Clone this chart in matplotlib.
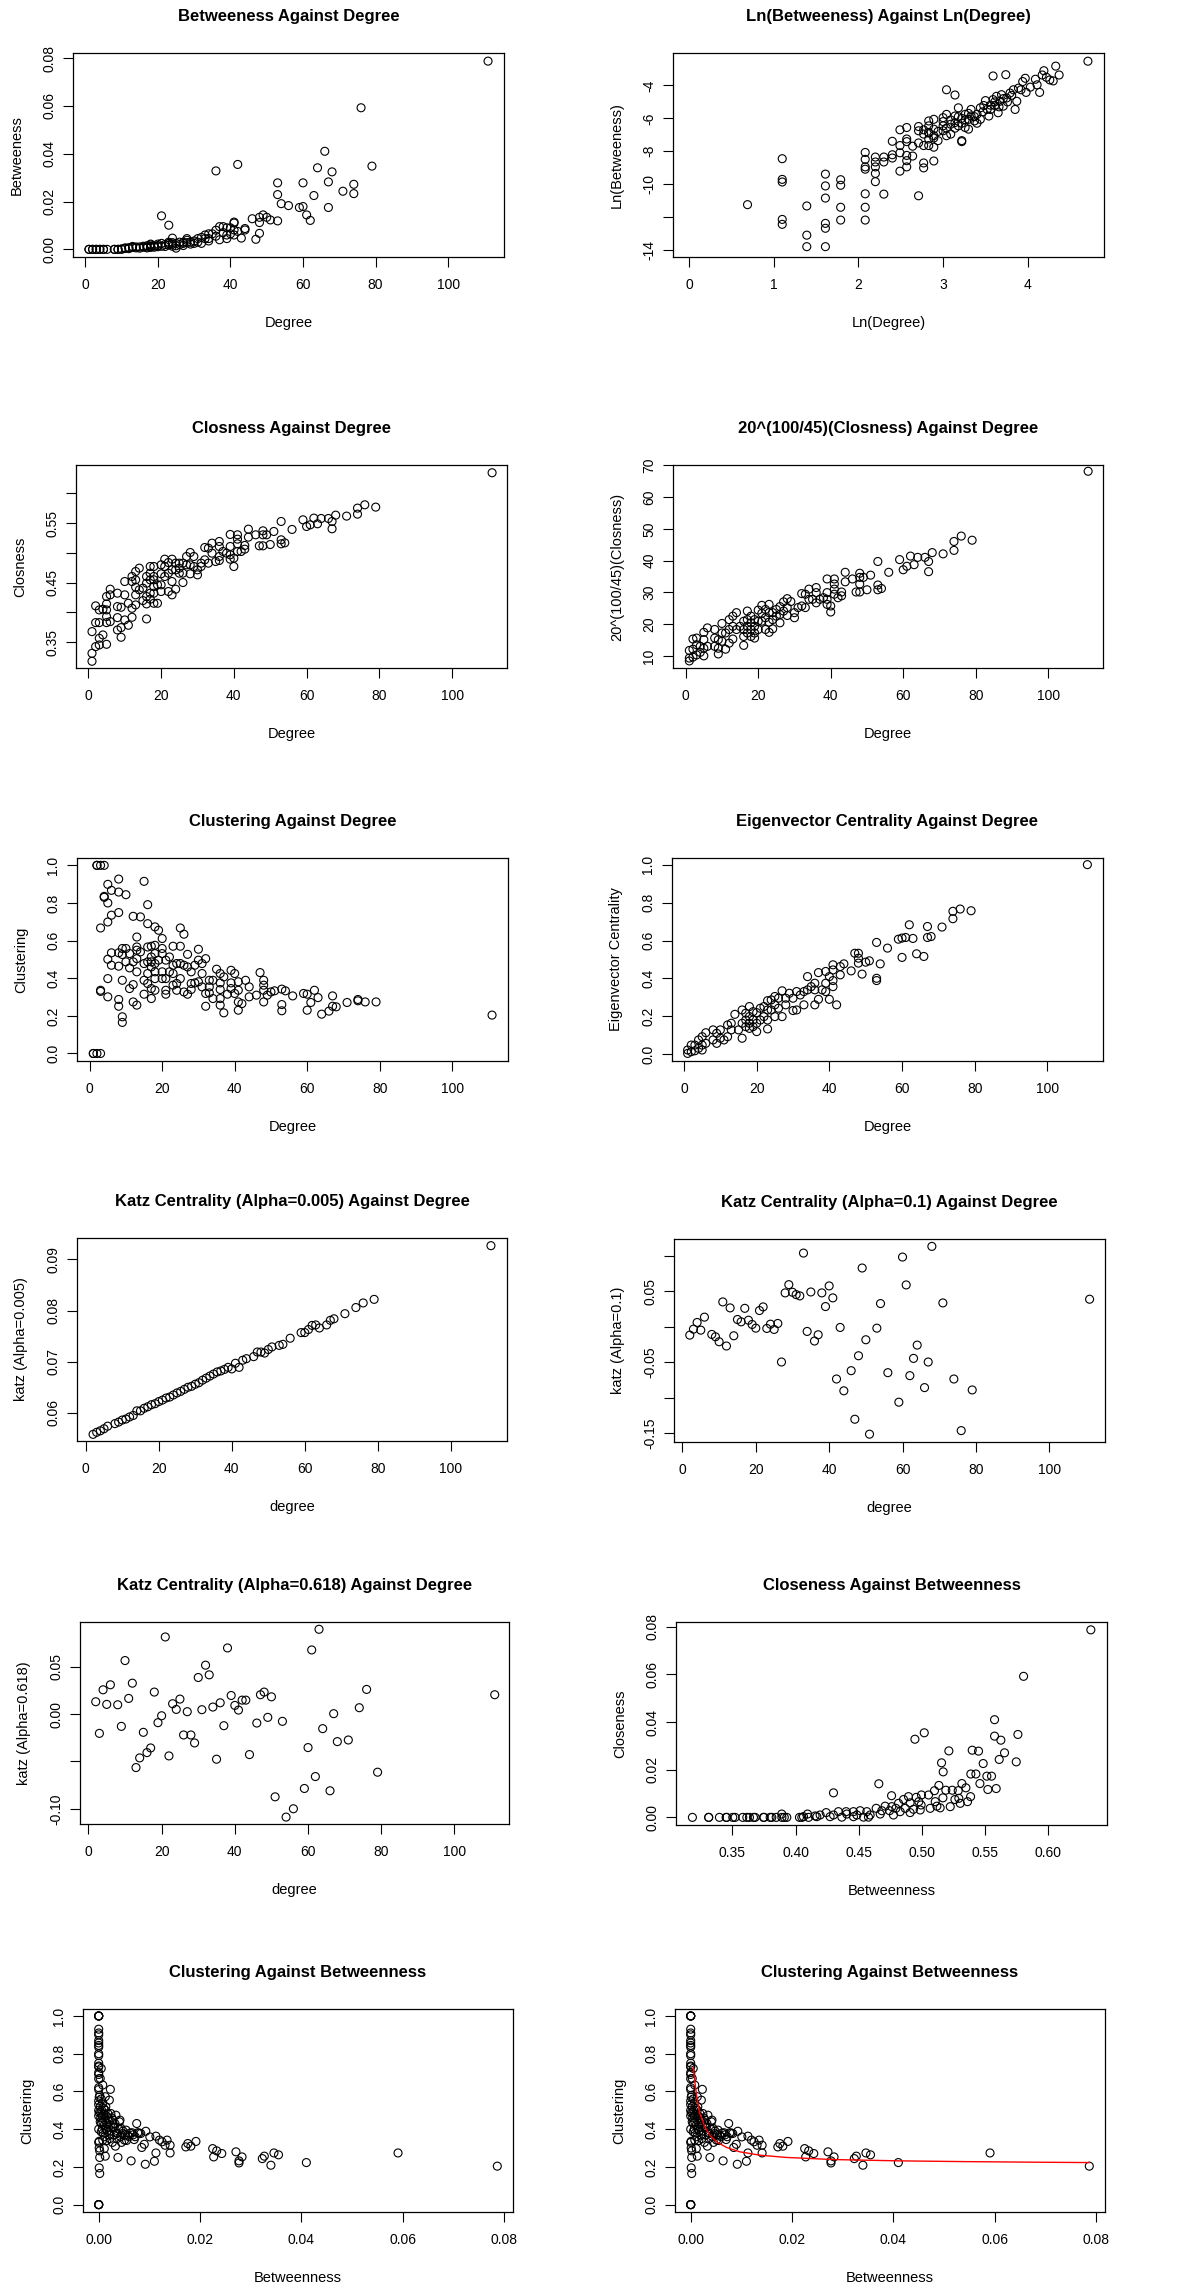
import numpy as np
import matplotlib
matplotlib.use("Agg")
import matplotlib.pyplot as plt

plt.rcParams['font.family'] = ['Liberation Sans', 'DejaVu Sans']

# ---- data (x, y) ----
deg_bet = [(1, 0), (1, 0), (2, 0), (2, 0), (3, 0), (3, 0), (4, 0), (4, 0), (5, 0), (5, 0), (6, 0), (8, 0), (8, 0),
           (9, 0), (9, 0), (10, 0), (10, 0.0002), (11, 0.0004), (11, 0.0006), (12, 0.0003), (12, 0.0007),
           (13, 0.0008), (13, 0.0012), (14, 0.0006), (14, 0.0010), (15, 0.0010), (15, 0.0005), (16, 0.0009),
           (16, 0.0013), (17, 0.0010), (17, 0.0015), (17, 0.0006), (18, 0.0012), (18, 0.0018), (18, 0.0008),
           (18, 0.0022), (19, 0.0014), (19, 0.0009), (20, 0.0016), (20, 0.0022), (20, 0.0011), (21, 0.0025),
           (21, 0.0013), (22, 0.0020), (22, 0.0012), (23, 0.0018), (23, 0.0025), (23, 0.0030), (24, 0.0022),
           (24, 0.0028), (24, 0.0013), (25, 0.0015), (25, 0.0005), (25, 0.0025), (26, 0.0030), (26, 0.0020),
           (27, 0.0030), (27, 0.0025), (27, 0.0016), (28, 0.0038), (28, 0.0045), (28, 0.0028), (29, 0.0030),
           (29, 0.0022), (30, 0.0025), (30, 0.0035), (31, 0.0045), (31, 0.0030), (32, 0.0050), (32, 0.0025),
           (33, 0.0060), (33, 0.0045), (34, 0.0045), (34, 0.0035), (34, 0.0065), (35, 0.0065), (36, 0.0055),
           (36, 0.0080), (37, 0.0095), (37, 0.0040), (38, 0.0095), (38, 0.0070), (39, 0.0090), (39, 0.0060),
           (39, 0.0045), (40, 0.0090), (40, 0.0065), (41, 0.0110), (41, 0.0060), (42, 0.0075),
           (21, 0.0140), (23, 0.0101), (24, 0.0047), (36, 0.0328), (42, 0.0355), (41, 0.0114), (41, 0.0081),
           (46, 0.0128), (48, 0.0134), (49, 0.0144), (50, 0.0134), (51, 0.0123), (53, 0.0119), (48, 0.0112),
           (48, 0.0067), (47, 0.0042), (43, 0.0047), (44, 0.0087), (44, 0.0081), (53, 0.0278), (53, 0.0229),
           (54, 0.0191), (56, 0.0183), (59, 0.0175), (60, 0.0179), (60, 0.0278), (61, 0.0144), (62, 0.0121),
           (63, 0.0225), (64, 0.0341), (66, 0.0410), (67, 0.0282), (67, 0.0175), (68, 0.0324), (71, 0.0243),
           (74, 0.0272), (74, 0.0233), (76, 0.0592), (79, 0.0348), (111, 0.0787)]

ln_deg_bet = [(0.69, -11.26), (1.10, -8.46), (1.10, -9.72), (1.10, -9.88), (1.10, -12.16), (1.10, -12.46),
              (1.39, -11.34), (1.39, -13.12), (1.39, -13.82), (1.61, -9.4), (1.61, -10.12), (1.61, -10.86),
              (1.61, -12.4), (1.61, -12.7), (1.61, -13.82), (1.79, -9.74), (1.79, -10.08), (1.79, -11.42),
              (1.79, -12.2), (2.08, -8.08), (2.08, -8.5), (2.08, -8.96), (2.08, -9.1), (2.08, -10.6),
              (2.08, -11.42), (2.08, -12.2), (2.20, -8.36), (2.20, -8.66), (2.20, -8.96), (2.20, -9.36),
              (2.20, -9.86), (2.30, -8.36), (2.30, -8.66), (2.30, -10.62), (2.40, -7.4), (2.40, -8.22),
              (2.40, -8.42), (2.49, -6.7), (2.49, -7.66), (2.49, -8.1), (2.49, -9.22), (2.57, -6.56),
              (2.57, -7.26), (2.57, -7.42), (2.57, -8.26), (2.57, -8.58), (2.57, -8.96), (2.64, -7.7),
              (2.64, -8.3), (2.71, -6.5), (2.71, -6.76), (2.71, -7.5), (2.71, -10.72), (2.77, -6.7),
              (2.77, -6.96), (2.77, -7.66), (2.77, -8.72), (2.77, -9.02), (2.83, -6.16), (2.83, -6.46),
              (2.83, -6.86), (2.83, -7.26), (2.83, -7.66), (2.89, -6.06), (2.89, -6.66), (2.89, -7.06),
              (2.89, -7.76), (2.89, -8.6), (2.94, -7.36), (3.0, -5.96), (3.0, -6.46), (3.0, -6.76),
              (3.04, -4.26), (3.04, -5.76), (3.04, -7.06), (3.09, -6.36), (3.09, -6.96), (3.14, -4.58),
              (3.14, -5.86), (3.14, -6.26), (3.18, -5.36), (3.18, -6.46), (3.22, -6.0), (3.22, -7.36),
              (3.22, -7.42), (3.26, -5.76), (3.26, -6.56), (3.30, -6.06), (3.30, -6.66), (3.33, -5.46),
              (3.33, -5.86), (3.37, -6.16), (3.40, -5.76), (3.44, -5.36), (3.44, -6.06), (3.48, -5.22),
              (3.50, -4.92), (3.52, -5.46), (3.54, -5.86), (3.56, -5.46), (3.59, -3.42), (3.59, -4.86),
              (3.61, -5.22), (3.63, -4.66), (3.65, -5.66), (3.67, -4.96), (3.69, -4.56), (3.71, -5.26),
              (3.74, -3.34), (3.75, -4.76), (3.79, -4.46), (3.83, -4.26), (3.85, -5.46), (3.87, -4.96),
              (3.89, -4.16), (3.92, -4.26), (3.94, -3.76), (3.97, -3.56), (3.98, -4.42), (4.03, -4.1),
              (4.09, -3.62), (4.11, -3.96), (4.14, -4.42), (4.17, -3.36), (4.19, -3.1), (4.22, -3.5),
              (4.26, -3.66), (4.30, -3.72), (4.33, -2.82), (4.37, -3.36), (4.71, -2.52),
              (2.83, -6.9), (2.89, -7.2), (2.94, -6.8), (3.0, -6.2), (3.04, -6.6), (3.09, -6.1),
              (3.14, -6.6), (3.18, -5.9), (3.22, -6.3), (3.26, -6.1), (3.30, -5.7), (3.37, -5.9),
              (3.40, -6.3), (3.47, -5.6), (3.56, -5.2), (3.61, -5.0), (3.66, -5.3), (3.71, -4.8),
              (3.76, -5.0), (3.81, -4.6)]

deg_clo = [(111, 0.6346), (79, 0.5769), (76, 0.5808), (74, 0.5752), (74, 0.5651), (71, 0.5618), (68, 0.5634),
           (67, 0.5528), (67, 0.5405), (66, 0.5578), (64, 0.5578), (63, 0.5489), (62, 0.5584), (61, 0.5472),
           (60, 0.5444), (59, 0.5556), (56, 0.5394), (54, 0.5169), (53, 0.5528), (53, 0.5220), (53, 0.5153),
           (51, 0.5360), (50, 0.5141), (49, 0.5304), (48, 0.5371), (48, 0.5304), (48, 0.5119), (47, 0.5119),
           (46, 0.5304), (44, 0.5399), (44, 0.5265), (43, 0.5125), (43, 0.5063), (42, 0.5024), (41, 0.5304),
           (41, 0.5231), (41, 0.5153), (41, 0.5024), (40, 0.4912), (40, 0.4772), (39, 0.5310), (39, 0.5108),
           (39, 0.4968), (39, 0.4895), (38, 0.4996), (37, 0.5024), (36, 0.5192), (36, 0.5108), (36, 0.4940),
           (36, 0.4873), (35, 0.4856), (34, 0.5164), (34, 0.4996), (33, 0.5080), (33, 0.4828), (32, 0.5091),
           (32, 0.4884), (31, 0.4828), (31, 0.4772), (30, 0.4716), (30, 0.4632), (29, 0.4940), (29, 0.4772),
           (28, 0.5007), (28, 0.4800), (28, 0.4649), (27, 0.4940), (27, 0.4800), (26, 0.4828), (26, 0.4660),
           (26, 0.4503), (25, 0.4828), (25, 0.4744), (25, 0.4660), (24, 0.4828), (24, 0.4716), (24, 0.4391),
           (23, 0.4895), (23, 0.4716), (23, 0.4520), (23, 0.4296), (22, 0.4839), (22, 0.4660), (22, 0.4352),
           (21, 0.4895), (21, 0.4772), (21, 0.4604), (20, 0.4800), (20, 0.4649), (20, 0.4464), (20, 0.4352),
           (19, 0.4464), (19, 0.4155), (18, 0.4772), (18, 0.4604), (18, 0.4548), (18, 0.4436), (18, 0.4324),
           (18, 0.4155), (17, 0.4772), (17, 0.4660), (17, 0.4548), (17, 0.4324), (17, 0.4223), (16, 0.4604),
           (16, 0.4492), (16, 0.4268), (16, 0.4144), (16, 0.3892), (15, 0.4408), (15, 0.4200), (14, 0.4744),
           (14, 0.4380), (13, 0.4688), (13, 0.4548), (13, 0.4425), (13, 0.4296), (13, 0.4127), (12, 0.4604),
           (12, 0.4520), (12, 0.4071), (12, 0.3920), (11, 0.4155), (11, 0.3786), (10, 0.4520), (10, 0.4296),
           (10, 0.3875), (9, 0.4088), (9, 0.3746), (9, 0.3584), (8, 0.4324), (8, 0.4099), (8, 0.3914),
           (8, 0.3707), (6, 0.4391), (6, 0.4296), (6, 0.3847), (5, 0.4268), (5, 0.4144), (5, 0.4043),
           (5, 0.3931), (5, 0.3830), (5, 0.3466), (4, 0.4055), (4, 0.3623), (3, 0.4043), (3, 0.3830),
           (3, 0.3567), (3, 0.3455), (2, 0.4111), (2, 0.3830), (2, 0.3427), (1, 0.3679), (1, 0.3315),
           (1, 0.3181)]

deg_powclo = [(111, 68.1), (79, 46.4), (76, 47.7), (74, 46.0), (74, 43.2), (71, 42.1), (68, 42.5), (67, 39.7),
              (67, 36.5), (66, 41.0), (64, 41.0), (63, 38.7), (62, 41.4), (61, 38.2), (60, 37.1), (59, 40.3),
              (56, 36.3), (54, 31.2), (53, 39.7), (53, 32.3), (53, 30.8), (51, 35.4), (50, 30.8), (49, 34.7),
              (48, 36.0), (48, 34.7), (48, 32.6), (48, 30.1), (47, 30.1), (46, 34.2), (44, 36.3), (44, 33.3),
              (43, 30.1), (43, 28.9), (42, 28.3), (41, 34.2), (41, 32.6), (41, 31.0), (41, 29.4), (40, 23.8),
              (40, 25.7), (39, 34.2), (39, 29.9), (39, 27.8), (39, 26.2), (38, 28.3), (37, 27.8), (36, 31.5),
              (36, 29.9), (36, 26.7), (35, 27.8), (34, 31.0), (34, 27.8), (33, 29.4), (33, 25.2), (32, 29.6),
              (32, 25.7), (31, 25.2), (30, 23.6), (30, 22.0), (29, 27.1), (28, 28.0), (28, 25.2), (28, 22.7),
              (27, 27.0), (27, 24.1), (26, 25.5), (26, 23.0), (26, 20.4), (25, 24.6), (25, 22.5), (24, 23.6),
              (24, 21.4), (24, 18.5), (23, 26.2), (23, 23.6), (23, 20.6), (23, 17.4), (22, 24.6), (22, 22.0),
              (22, 18.3), (21, 25.9), (21, 23.4), (21, 20.9), (20, 24.4), (20, 20.9), (20, 18.3), (19, 21.4),
              (19, 19.3), (19, 17.2), (19, 15.6), (18, 22.5), (18, 20.4), (18, 18.3), (18, 16.1), (17, 24.1),
              (17, 21.4), (17, 19.3), (17, 17.2), (16, 20.9), (16, 18.3), (16, 16.1), (16, 13.3), (15, 19.3),
              (14, 23.6), (14, 18.3), (13, 22.5), (13, 19.3), (13, 15.3), (12, 21.4), (12, 18.3), (12, 14.0),
              (11, 17.2), (11, 12.1), (10, 20.2), (10, 17.2), (10, 14.6), (9, 15.1), (9, 12.4), (9, 10.6),
              (8, 18.3), (8, 15.6), (8, 13.0), (6, 18.8), (6, 13.0), (5, 17.4), (5, 15.1), (5, 12.4),
              (5, 10.0), (4, 13.0), (4, 11.1), (3, 15.6), (3, 13.5), (3, 10.3), (2, 15.3), (2, 12.1),
              (2, 9.6), (1, 11.7), (1, 9.3), (1, 8.4)]

deg_clu = [(2, 1.0), (2, 1.0), (3, 1.0), (4, 1.0), (1, 0.0), (1, 0.0), (2, 0.0), (3, 0.0), (3, 0.667),
           (3, 0.336), (3, 0.33), (4, 0.835), (4, 0.83), (5, 0.899), (5, 0.80), (5, 0.699), (5, 0.501),
           (5, 0.398), (5, 0.301), (6, 0.867), (6, 0.735), (6, 0.535), (6, 0.469), (8, 0.927), (8, 0.858),
           (8, 0.749), (8, 0.535), (8, 0.464), (8, 0.287), (8, 0.251), (9, 0.558), (9, 0.526), (9, 0.389),
           (9, 0.195), (9, 0.165), (10, 0.844), (10, 0.558), (10, 0.487), (11, 0.531), (11, 0.455),
           (11, 0.345), (12, 0.729), (12, 0.487), (12, 0.366), (12, 0.274), (13, 0.619), (13, 0.566),
           (13, 0.549), (13, 0.504), (13, 0.434), (13, 0.257), (14, 0.726), (14, 0.540), (15, 0.915),
           (15, 0.478), (15, 0.389), (15, 0.315), (16, 0.791), (16, 0.690), (16, 0.566), (16, 0.487),
           (16, 0.425), (16, 0.372), (17, 0.570), (17, 0.513), (17, 0.487), (17, 0.460), (17, 0.345),
           (17, 0.292), (18, 0.673), (18, 0.575), (18, 0.531), (18, 0.478), (18, 0.434), (18, 0.398),
           (18, 0.336), (19, 0.655), (19, 0.496), (20, 0.611), (20, 0.558), (20, 0.531), (20, 0.434),
           (20, 0.398), (21, 0.496), (21, 0.398), (21, 0.336), (21, 0.315), (22, 0.513), (22, 0.434),
           (23, 0.570), (23, 0.469), (23, 0.425), (23, 0.363), (24, 0.478), (24, 0.372), (24, 0.336),
           (25, 0.667), (25, 0.570), (25, 0.478), (25, 0.398), (26, 0.634), (26, 0.469), (26, 0.327),
           (27, 0.527), (27, 0.460), (27, 0.315), (28, 0.434), (28, 0.372), (28, 0.340), (29, 0.469),
           (29, 0.375), (30, 0.554), (30, 0.496), (30, 0.381), (31, 0.478), (31, 0.425), (31, 0.354),
           (32, 0.504), (32, 0.319), (32, 0.251), (33, 0.389), (33, 0.354), (33, 0.322), (34, 0.389),
           (34, 0.292), (35, 0.448), (36, 0.425), (36, 0.375), (36, 0.340), (36, 0.292), (36, 0.257),
           (37, 0.407), (37, 0.216), (38, 0.315), (39, 0.442), (39, 0.375), (39, 0.345), (40, 0.425),
           (40, 0.319), (41, 0.381), (41, 0.336), (41, 0.274), (41, 0.230), (42, 0.265), (43, 0.389),
           (44, 0.354), (44, 0.301), (46, 0.310), (47, 0.430), (48, 0.389), (48, 0.363), (48, 0.336),
           (48, 0.274), (49, 0.310), (50, 0.327), (51, 0.333), (53, 0.342), (53, 0.260), (53, 0.227),
           (54, 0.333), (56, 0.306), (59, 0.319), (60, 0.315), (60, 0.230), (61, 0.271), (62, 0.336),
           (63, 0.297), (64, 0.209), (66, 0.225), (67, 0.306), (67, 0.251), (68, 0.248), (71, 0.271),
           (74, 0.287), (74, 0.280), (76, 0.274), (79, 0.274), (111, 0.204)]

deg_eig = [(111, 1.0), (79, 0.757), (76, 0.766), (74, 0.754), (74, 0.715), (71, 0.671), (68, 0.621),
           (67, 0.674), (67, 0.616), (66, 0.516), (64, 0.530), (63, 0.611), (62, 0.683), (61, 0.616),
           (60, 0.613), (60, 0.511), (59, 0.607), (56, 0.560), (54, 0.477), (53, 0.590), (53, 0.401),
           (53, 0.389), (51, 0.493), (50, 0.486), (49, 0.423), (48, 0.533), (48, 0.507), (48, 0.481),
           (47, 0.533), (46, 0.440), (44, 0.477), (43, 0.419), (43, 0.463), (42, 0.261), (41, 0.472),
           (41, 0.445), (41, 0.389), (41, 0.357), (40, 0.290), (40, 0.410), (39, 0.437), (39, 0.375),
           (39, 0.331), (38, 0.340), (37, 0.431), (37, 0.290), (36, 0.375), (36, 0.340), (36, 0.261),
           (35, 0.357), (34, 0.410), (34, 0.340), (33, 0.331), (33, 0.261), (32, 0.313), (31, 0.331),
           (31, 0.234), (30, 0.296), (30, 0.231), (29, 0.322), (28, 0.296), (28, 0.261), (27, 0.335),
           (27, 0.199), (26, 0.296), (26, 0.243), (25, 0.305), (25, 0.261), (25, 0.199), (24, 0.287),
           (24, 0.234), (23, 0.283), (23, 0.234), (23, 0.181), (23, 0.134), (22, 0.252), (22, 0.199),
           (21, 0.243), (21, 0.181), (20, 0.220), (20, 0.164), (20, 0.120), (19, 0.225), (19, 0.181),
           (19, 0.146), (18, 0.252), (18, 0.199), (18, 0.164), (18, 0.137), (17, 0.217), (17, 0.181),
           (17, 0.146), (16, 0.234), (16, 0.164), (16, 0.085), (15, 0.129), (14, 0.211), (13, 0.164),
           (13, 0.129), (12, 0.155), (12, 0.093), (11, 0.076), (10, 0.129), (10, 0.085), (9, 0.111),
           (9, 0.058), (8, 0.129), (8, 0.076), (6, 0.114), (6, 0.058), (5, 0.093), (5, 0.049), (5, 0.023),
           (4, 0.076), (4, 0.032), (3, 0.049), (3, 0.019), (2, 0.049), (2, 0.014), (1, 0.023), (1, 0.005)]

katz_005 = [(2, 0.0558), (3, 0.0562), (4, 0.0565), (5, 0.0569), (6, 0.0574), (8, 0.0579), (9, 0.0582),
            (10, 0.0586), (11, 0.0588), (12, 0.0592), (13, 0.0595), (14, 0.0604), (15, 0.0604), (16, 0.0609),
            (17, 0.0612), (18, 0.0616), (19, 0.0618), (20, 0.0622), (21, 0.0625), (22, 0.0629), (23, 0.0631),
            (24, 0.0635), (25, 0.0639), (26, 0.0642), (27, 0.0646), (28, 0.0650), (29, 0.0652), (30, 0.0656),
            (31, 0.0659), (32, 0.0664), (33, 0.0668), (34, 0.0672), (35, 0.0676), (36, 0.0680), (37, 0.0682),
            (38, 0.0685), (39, 0.0689), (40, 0.0686), (41, 0.0697), (42, 0.0689), (43, 0.0703), (44, 0.0706),
            (46, 0.0710), (47, 0.0719), (48, 0.0719), (49, 0.0717), (50, 0.0724), (51, 0.0729), (53, 0.0732),
            (54, 0.0734), (56, 0.0746), (59, 0.0757), (60, 0.0757), (61, 0.0763), (62, 0.0771), (63, 0.0772),
            (64, 0.0766), (66, 0.0772), (67, 0.0781), (68, 0.0784), (71, 0.0794), (74, 0.0806), (76, 0.0815),
            (79, 0.0822), (111, 0.0927)]

katz_01 = [(2, -0.0117), (3, -0.0033), (4, 0.0061), (5, -0.0047), (6, 0.0136), (8, -0.0107), (9, -0.014),
           (10, -0.021), (11, 0.035), (12, -0.027), (13, 0.0266), (14, -0.0126), (15, 0.0103), (16, 0.007),
           (17, 0.026), (18, 0.0093), (19, 0.0033), (20, -0.0019), (21, 0.0229), (22, 0.028), (23, -0.0023),
           (24, 0.0037), (25, -0.0037), (26, 0.0047), (27, -0.0495), (28, 0.0477), (29, 0.0593), (30, 0.0486),
           (31, 0.0453), (32, 0.0435), (33, 0.1037), (34, -0.0065), (35, 0.049), (36, -0.020), (37, -0.0112),
           (38, 0.0477), (39, 0.0285), (40, 0.0575), (41, 0.0407), (42, -0.0734), (43, -0.0009), (44, -0.090),
           (46, -0.0617), (47, -0.130), (48, -0.0407), (49, 0.0827), (50, -0.0182), (51, -0.151), (53, -0.0019),
           (54, 0.0327), (56, -0.0645), (59, -0.106), (60, 0.0981), (61, 0.0589), (62, -0.0687), (63, -0.0444),
           (64, -0.0257), (66, -0.0855), (67, -0.0495), (68, 0.1131), (71, 0.0336), (74, -0.0734),
           (76, -0.146), (79, -0.0888), (111, 0.0388)]

katz_618 = [(2, 0.013), (3, -0.0204), (4, 0.0256), (5, 0.0102), (6, 0.0309), (8, 0.0098), (9, -0.013),
            (10, 0.0565), (11, 0.0165), (12, 0.0326), (13, -0.0565), (14, -0.0463), (15, -0.0193), (16, -0.0407),
            (17, -0.0358), (18, 0.0232), (19, -0.0091), (20, -0.0018), (21, 0.0814), (22, -0.0442), (23, 0.0109),
            (24, 0.0049), (25, 0.0158), (26, -0.0221), (27, 0.0025), (28, -0.0221), (29, -0.0305), (30, 0.0386),
            (31, 0.0046), (32, 0.0516), (33, 0.0414), (34, 0.0074), (35, -0.0477), (36, 0.0119), (37, -0.0123),
            (38, 0.0698), (39, 0.0196), (40, 0.0091), (41, 0.0042), (42, 0.0147), (43, 0.0147), (44, -0.0428),
            (46, -0.0095), (47, 0.0204), (48, 0.0232), (49, -0.0035), (50, 0.0182), (51, -0.0874), (53, -0.0077),
            (54, -0.1088), (56, -0.10), (59, -0.0786), (60, -0.0354), (61, 0.0677), (62, -0.066), (63, 0.0895),
            (64, -0.0154), (66, -0.081), (67, 0.0004), (68, -0.0291), (71, -0.0274), (74, 0.0067), (76, 0.026),
            (79, -0.0614), (111, 0.0204)]

clo_bet = [(0.634, 0.0787), (0.5807, 0.0592), (0.5577, 0.0410), (0.5577, 0.0341), (0.5762, 0.0348),
           (0.5627, 0.0324), (0.502, 0.0355), (0.4946, 0.0328), (0.5215, 0.0279), (0.5400, 0.0282),
           (0.5450, 0.0278), (0.5656, 0.0271), (0.5614, 0.0243), (0.5157, 0.0229), (0.5487, 0.0226),
           (0.5749, 0.0233), (0.5170, 0.0191), (0.5389, 0.0182), (0.5429, 0.0182), (0.5516, 0.0173),
           (0.5553, 0.0173), (0.4660, 0.0141), (0.5461, 0.0142), (0.5136, 0.0134), (0.5318, 0.0142),
           (0.5350, 0.0124), (0.5524, 0.0117), (0.5590, 0.0121), (0.4301, 0.0103), (0.5191, 0.0114),
           (0.5242, 0.0114), (0.5101, 0.0112), (0.5289, 0.0112), (0.5387, 0.0087), (0.4761, 0.0091),
           (0.4998, 0.0094), (0.5054, 0.0094), (0.4895, 0.0087), (0.4856, 0.0075), (0.4956, 0.0084),
           (0.5168, 0.0082), (0.5263, 0.0075), (0.5294, 0.0080), (0.5363, 0.0066), (0.5305, 0.0059),
           (0.4977, 0.0066), (0.5107, 0.0066), (0.4816, 0.0059), (0.4908, 0.0061), (0.4995, 0.0052),
           (0.5120, 0.0047), (0.5146, 0.0040), (0.5226, 0.0045), (0.4710, 0.0047), (0.4763, 0.0045),
           (0.4795, 0.0038), (0.4869, 0.0038), (0.4935, 0.0034), (0.4988, 0.0031), (0.5067, 0.0038),
           (0.4639, 0.0038), (0.4684, 0.0028), (0.4745, 0.0028), (0.4829, 0.0024), (0.4908, 0.0020),
           (0.4565, 0.0024), (0.4512, 0.0028), (0.4459, 0.0024), (0.4401, 0.0024), (0.4340, 0.0024),
           (0.4243, 0.0020), (0.4406, 0.0014), (0.4486, 0.0010), (0.4591, 0.0010), (0.4671, 0.0014),
           (0.4776, 0.0010), (0.4301, 0.0010), (0.4195, 0.0010), (0.4155, 0.0006), (0.4095, 0.0014),
           (0.4063, 0.0003), (0.4031, 0.0), (0.4050, 0.0), (0.4103, 0.0), (0.4169, 0.0003), (0.4274, 0.0003),
           (0.4367, 0.0001), (0.4459, 0.0003), (0.4539, 0.0001), (0.4578, 0.0001), (0.3891, 0.0014),
           (0.3183, 0.0), (0.3312, 0.0), (0.3312, 0.0), (0.3397, 0.0), (0.3450, 0.0), (0.3455, 0.0),
           (0.3503, 0.0), (0.3521, 0.0), (0.3582, 0.0), (0.3614, 0.0), (0.3635, 0.0), (0.3667, 0.0),
           (0.3680, 0.0), (0.3746, 0.0), (0.3751, 0.0), (0.3799, 0.0), (0.3812, 0.0), (0.3847, 0.0),
           (0.3892, 0.0), (0.3911, 0.0), (0.3931, 0.0)]

bet_clu = [(0, 1.0), (0, 1.0), (0, 1.0), (0, 1.0), (0, 0.0), (0, 0.0), (0, 0.0), (0, 0.0), (0, 0.93),
           (0, 0.91), (0, 0.90), (0, 0.87), (0, 0.857), (0, 0.844), (0, 0.835), (0, 0.80), (0, 0.79),
           (0, 0.75), (0, 0.735), (0, 0.73), (0, 0.70), (0, 0.69), (0, 0.667), (0, 0.62), (0, 0.61),
           (0.0001, 0.57), (0, 0.55), (0, 0.53), (0, 0.50), (0, 0.47), (0, 0.40), (0.0001, 0.336), (0, 0.33),
           (0.0001, 0.30), (0.0002, 0.285), (0.0002, 0.25), (0.0001, 0.195), (0.0002, 0.165),
           (0.0002, 0.58), (0.0003, 0.52), (0.0004, 0.49), (0.0004, 0.46), (0.0005, 0.56), (0.0005, 0.43),
           (0.0006, 0.50), (0.0007, 0.47), (0.0007, 0.40), (0.0008, 0.54), (0.0008, 0.44), (0.0009, 0.38),
           (0.0010, 0.51), (0.0010, 0.48), (0.0011, 0.42), (0.0012, 0.45), (0.0012, 0.36), (0.0013, 0.50),
           (0.0014, 0.40), (0.0015, 0.47), (0.0016, 0.43), (0.0016, 0.34), (0.0017, 0.39), (0.0018, 0.46),
           (0.0019, 0.41), (0.0020, 0.37), (0.0021, 0.44), (0.0022, 0.35), (0.0023, 0.42), (0.0025, 0.39),
           (0.0026, 0.46), (0.0027, 0.33), (0.0028, 0.41), (0.0030, 0.37), (0.0032, 0.43), (0.0033, 0.31),
           (0.0035, 0.38), (0.0036, 0.35), (0.0040, 0.40), (0.0043, 0.36), (0.0045, 0.33), (0.0048, 0.39),
           (0.0052, 0.37), (0.0055, 0.34), (0.0060, 0.36), (0.0062, 0.38), (0.0068, 0.37), (0.0072, 0.36),
           (0.0080, 0.38),
           (0.0023, 0.611), (0.0021, 0.554), (0.0008, 0.634), (0.0005, 0.722), (0.0003, 0.669),
           (0.0013, 0.572), (0.0014, 0.519), (0.0018, 0.483), (0.0001, 0.487), (0.0003, 0.439),
           (0.0005, 0.386), (0.0008, 0.342), (0.0011, 0.297), (0.0013, 0.257), (0.0024, 0.483),
           (0.0028, 0.448), (0.0031, 0.412), (0.0034, 0.474), (0.0037, 0.377), (0.0041, 0.439),
           (0.0042, 0.448), (0.0044, 0.404), (0.0047, 0.377), (0.0051, 0.342), (0.0054, 0.395),
           (0.0057, 0.368), (0.0038, 0.250), (0.0064, 0.232), (0.0066, 0.381), (0.0070, 0.345),
           (0.0075, 0.430), (0.0077, 0.381), (0.0083, 0.377), (0.0085, 0.303), (0.0090, 0.320),
           (0.0092, 0.214), (0.0093, 0.389), (0.0101, 0.359), (0.0110, 0.230), (0.0113, 0.363),
           (0.0113, 0.274), (0.0120, 0.342), (0.0125, 0.333), (0.0131, 0.315), (0.0135, 0.342),
           (0.0141, 0.315), (0.0141, 0.274), (0.0172, 0.306), (0.0176, 0.324), (0.0182, 0.310),
           (0.0192, 0.335), (0.0225, 0.297), (0.0227, 0.253), (0.0233, 0.285), (0.0243, 0.271),
           (0.0271, 0.280), (0.0277, 0.232), (0.0277, 0.221), (0.0283, 0.253), (0.0323, 0.244),
           (0.0327, 0.257), (0.0340, 0.209), (0.0346, 0.274), (0.0355, 0.264), (0.0410, 0.223),
           (0.0591, 0.274), (0.0787, 0.204)]

# red fitted curve in the last panel, read along its path
fit_x = [0.00053, 0.00086, 0.0012, 0.0018, 0.0028, 0.0038, 0.0051, 0.0071, 0.0097, 0.0137, 0.019,
         0.0282, 0.0413, 0.0545, 0.0677, 0.0787]
fit_y = [0.726, 0.642, 0.572, 0.483, 0.412, 0.368, 0.333, 0.303, 0.280, 0.262, 0.250,
         0.239, 0.232, 0.228, 0.225, 0.223]

deg_ticks = [0, 20, 40, 60, 80, 100]

W, H = 1200, 2293
fig = plt.figure(figsize=(W / 100, H / 100), dpi=100)


def panel(box, pts, title, xlabel, ylabel, xlim, ylim, xticks, yticks, xtl, ytl):
    left, top, right, bottom = box
    w, h = right - left, bottom - top
    ax = fig.add_axes([left / W, 1 - bottom / H, w / W, h / H])
    x, y = np.array(pts, dtype=float).T
    ax.scatter(x, y, s=33, facecolors='none', edgecolors='black', linewidths=0.8, zorder=3)
    ax.set_xlim(*xlim)
    ax.set_ylim(*ylim)
    ax.set_xticks(xticks)
    ax.set_xticklabels(xtl)
    ax.set_yticks(yticks)
    ax.set_yticklabels(ytl, rotation=90, va='center')
    ax.tick_params(direction='out', length=7, width=0.8, labelsize=10)
    ax.tick_params(axis='x', pad=8)
    ax.tick_params(axis='y', pad=5)
    for s in ax.spines.values():
        s.set_linewidth(0.9)
    ax.set_title(title, fontsize=12, fontweight='bold', pad=23)
    ax.set_xlabel(xlabel, fontsize=10.5)
    ax.xaxis.set_label_coords(0.5, -59 / h)
    ax.set_ylabel(ylabel, fontsize=10.5)
    ax.yaxis.set_label_coords(-49 / w, 0.5)
    return ax


dtl = [str(t) for t in deg_ticks]

panel((73, 53, 504, 257), deg_bet, "Betweeness Against Degree", "Degree", "Betweeness",
      (-3.4, 115.4), (-0.0032, 0.0821), deg_ticks, [0, 0.02, 0.04, 0.06, 0.08],
      dtl, ["0.00", "0.02", "0.04", "0.06", "0.08"])

panel((673, 53, 1104, 257), ln_deg_bet, "Ln(Betweeness) Against Ln(Degree)", "Ln(Degree)", "Ln(Betweeness)",
      (-0.19, 4.9), (-14.45, -2.02), [0, 1, 2, 3, 4], [-14, -12, -10, -8, -6, -4],
      ["0", "1", "2", "3", "4"], ["-14", "", "-10", "-8", "-6", "-4"])

panel((76, 465, 507, 668), deg_clo, "Closness Against Degree", "Degree", "Closness",
      (-3.4, 115.1), (0.3068, 0.6476), deg_ticks, [0.35, 0.40, 0.45, 0.50, 0.55, 0.60],
      dtl, ["0.35", "", "0.45", "", "0.55", ""])

panel((673, 465, 1103, 668), deg_powclo, "20^(100/45)(Closness) Against Degree", "Degree", "20^(100/45)(Closness)",
      (-3.5, 115.1), (6.18, 70.07), deg_ticks, [10, 20, 30, 40, 50, 60, 70],
      dtl, ["10", "20", "30", "40", "50", "60", "70"])

unit_ticks = [0, 0.2, 0.4, 0.6, 0.8, 1.0]
unit_tl = ["0.0", "0.2", "0.4", "0.6", "0.8", "1.0"]

panel((77, 858, 508, 1061), deg_clu, "Clustering Against Degree", "Degree", "Clustering",
      (-3.5, 115.4), (-0.04, 1.039), deg_ticks, unit_ticks, dtl, unit_tl)

panel((672, 858, 1103, 1061), deg_eig, "Eigenvector Centrality Against Degree", "Degree", "Eigenvector Centrality",
      (-3.3, 115.3), (-0.035, 1.035), deg_ticks, unit_ticks, dtl, unit_tl)

panel((77, 1238, 507, 1441), katz_005, "Katz Centrality (Alpha=0.005) Against Degree", "degree",
      "katz (Alpha=0.005)", (-2.4, 115.4), (0.0545, 0.0942), deg_ticks, [0.06, 0.07, 0.08, 0.09],
      dtl, ["0.06", "0.07", "0.08", "0.09"])

panel((674, 1239, 1105, 1442), katz_01, "Katz Centrality (Alpha=0.1) Against Degree", "degree",
      "katz (Alpha=0.1)", (-2.3, 115.2), (-0.162, 0.1235), deg_ticks,
      [-0.15, -0.10, -0.05, 0.0, 0.05, 0.10], dtl, ["-0.15", "", "-0.05", "", "0.05", ""])

panel((80, 1622, 509, 1824), katz_618, "Katz Centrality (Alpha=0.618) Against Degree", "degree",
      "katz (Alpha=0.618)", (-2.3, 114.9), (-0.1161, 0.0972), deg_ticks,
      [-0.10, -0.05, 0.0, 0.05], dtl, ["-0.10", "", "0.00", "0.05"])

panel((676, 1622, 1107, 1825), clo_bet, "Closeness Against Betweenness", "Betweenness", "Closeness",
      (0.3053, 0.6468), (-0.0032, 0.0820), [0.35, 0.40, 0.45, 0.50, 0.55, 0.60],
      [0, 0.02, 0.04, 0.06, 0.08], ["0.35", "0.40", "0.45", "0.50", "0.55", "0.60"],
      ["0.00", "0.02", "0.04", "0.06", "0.08"])

bet_ticks = [0, 0.02, 0.04, 0.06, 0.08]
bet_tl = ["0.00", "0.02", "0.04", "0.06", "0.08"]

panel((83, 2009, 513, 2212), bet_clu, "Clustering Against Betweenness", "Betweenness", "Clustering",
      (-0.0031, 0.0818), (-0.039, 1.037), bet_ticks, unit_ticks, bet_tl, unit_tl)

ax12 = panel((675, 2009, 1105, 2212), bet_clu, "Clustering Against Betweenness", "Betweenness", "Clustering",
             (-0.0031, 0.0818), (-0.039, 1.037), bet_ticks, unit_ticks, bet_tl, unit_tl)
ax12.plot(fit_x, fit_y, color='red', linewidth=1.0, zorder=4)

fig.savefig("out.png", dpi=100)
